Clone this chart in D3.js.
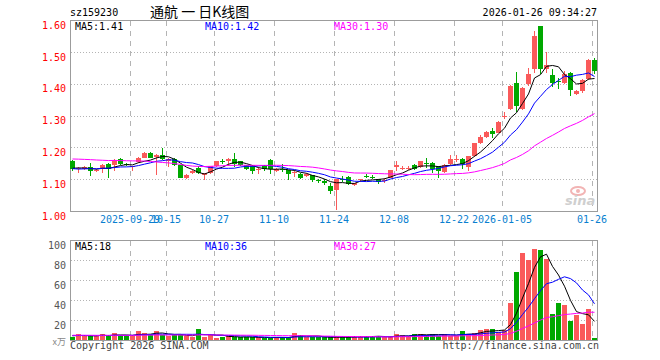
<!DOCTYPE html>
<html>
<head>
<meta charset="utf-8">
<script src="https://cdn.jsdelivr.net/npm/d3@7/dist/d3.min.js"></script>
<style>
	body { margin: 0; background: #fff; }
	svg text { font-family: "DejaVu Sans Mono", monospace; font-size: 10px; }
</style>
</head>
<body>
<svg id="kline" width="660" height="360"></svg>
<script>
// x axis labels and the day index they sit on
var tickLabels = ["2025-09-29", "10-15", "10-27", "11-10", "11-24", "12-08", "12-22", "2026-01-05", "01-26"];
var tickIndex = [10, 16, 24, 34, 44, 54, 64, 72, 87];
var priceTicks = [1.00, 1.10, 1.20, 1.30, 1.40, 1.50, 1.60];
var volTicks = [20, 40, 60, 80, 100];

// daily candles
var open = [1.156, 1.131, 1.132, 1.138, 1.125, 1.131, 1.148, 1.143, 1.164, 1.148,
	1.137, 1.154, 1.167, 1.182, 1.169, 1.176, 1.156, 1.162, 1.143, 1.105,
	1.120, 1.136, 1.112, 1.120, 1.141, 1.157, 1.156, 1.164, 1.156, 1.143,
	1.143, 1.130, 1.143, 1.159, 1.125, 1.132, 1.128, 1.122, 1.117, 1.110,
	1.112, 1.096, 1.094, 1.079, 1.067, 1.101, 1.108, 1.082, 1.096, 1.111,
	1.108, 1.100, 1.096, 1.105, 1.138, 1.133, 1.135, 1.145, 1.138, 1.151,
	1.151, 1.140, 1.123, 1.148, 1.161, 1.164, 1.138, 1.173, 1.213, 1.231,
	1.251, 1.246, 1.298, 1.321, 1.403, 1.321, 1.398, 1.445, 1.580, 1.445,
	1.426, 1.409, 1.401, 1.434, 1.367, 1.377, 1.415, 1.474];
var high = [1.160, 1.138, 1.140, 1.150, 1.131, 1.147, 1.150, 1.162, 1.166, 1.151,
	1.142, 1.170, 1.184, 1.184, 1.179, 1.198, 1.166, 1.165, 1.145, 1.116,
	1.129, 1.140, 1.120, 1.142, 1.158, 1.164, 1.166, 1.182, 1.158, 1.145,
	1.145, 1.138, 1.145, 1.162, 1.135, 1.148, 1.130, 1.128, 1.119, 1.119,
	1.114, 1.100, 1.100, 1.087, 1.101, 1.110, 1.110, 1.089, 1.102, 1.115,
	1.112, 1.102, 1.104, 1.130, 1.156, 1.140, 1.141, 1.148, 1.158, 1.166,
	1.154, 1.142, 1.147, 1.176, 1.176, 1.166, 1.174, 1.215, 1.238, 1.250,
	1.261, 1.282, 1.311, 1.395, 1.437, 1.389, 1.450, 1.564, 1.580, 1.500,
	1.445, 1.419, 1.440, 1.437, 1.380, 1.414, 1.476, 1.482];
var low = [1.127, 1.118, 1.128, 1.109, 1.121, 1.118, 1.105, 1.127, 1.146, 1.140,
	1.125, 1.150, 1.165, 1.165, 1.112, 1.160, 1.138, 1.141, 1.103, 1.102,
	1.116, 1.116, 1.097, 1.117, 1.138, 1.148, 1.141, 1.138, 1.141, 1.128,
	1.117, 1.117, 1.126, 1.117, 1.122, 1.121, 1.097, 1.107, 1.101, 1.107,
	1.090, 1.088, 1.082, 1.052, 1.003, 1.090, 1.082, 1.079, 1.092, 1.104,
	1.102, 1.085, 1.087, 1.103, 1.126, 1.128, 1.130, 1.130, 1.135, 1.135,
	1.120, 1.103, 1.120, 1.146, 1.153, 1.132, 1.126, 1.171, 1.211, 1.229,
	1.230, 1.244, 1.290, 1.318, 1.311, 1.318, 1.392, 1.434, 1.431, 1.434,
	1.391, 1.384, 1.398, 1.361, 1.365, 1.372, 1.413, 1.429];
var close = [1.131, 1.136, 1.137, 1.125, 1.128, 1.145, 1.133, 1.160, 1.148, 1.143,
	1.140, 1.168, 1.182, 1.167, 1.177, 1.162, 1.164, 1.143, 1.105, 1.114,
	1.126, 1.118, 1.118, 1.140, 1.156, 1.156, 1.164, 1.148, 1.143, 1.133,
	1.126, 1.131, 1.133, 1.133, 1.133, 1.131, 1.117, 1.123, 1.104, 1.117,
	1.097, 1.095, 1.089, 1.063, 1.099, 1.100, 1.084, 1.087, 1.100, 1.110,
	1.107, 1.092, 1.097, 1.128, 1.146, 1.134, 1.136, 1.133, 1.156, 1.150,
	1.133, 1.125, 1.145, 1.164, 1.162, 1.148, 1.172, 1.213, 1.231, 1.248,
	1.241, 1.280, 1.300, 1.392, 1.330, 1.387, 1.429, 1.551, 1.445, 1.460,
	1.401, 1.408, 1.429, 1.380, 1.377, 1.411, 1.474, 1.439];
// volume in 万 (10k) lots
var volume = [3.3, 6, 4, 4, 4, 6, 4, 7, 4, 4,
	4, 9, 7, 5, 9, 5, 4, 5, 5, 4,
	3.3, 11, 3.3, 5, 2, 3.3, 4, 2.7, 2.7, 2.7,
	2.7, 2.7, 2, 2, 2.7, 2.7, 2.7, 7, 5, 2.7,
	2.7, 2.7, 2.7, 2.7, 3, 2.7, 2.7, 4, 4, 2.7,
	4, 4, 2.7, 2.7, 6, 5, 4, 6, 6, 5,
	6, 4, 6, 4, 4, 9, 6, 7, 10, 11,
	11, 8, 10, 37, 68, 87, 80, 91, 90, 81,
	26, 37, 35, 19, 25, 16, 31, 2];

// days before the window, estimated so the moving averages start where the picture has them
var prevClose = [1.15, 1.16, 1.15, 1.16, 1.17, 1.16, 1.15, 1.16, 1.16, 1.15,
	1.18, 1.19, 1.21, 1.22, 1.21, 1.20, 1.21, 1.19, 1.20, 1.19,
	1.15, 1.13, 1.12, 1.13, 1.13, 1.13, 1.14, 1.13, 1.14];
var prevVolume = [5, 5, 4, 6, 5, 5, 4, 5, 6, 5,
	5, 4, 5, 5, 6, 5, 4, 5, 5, 4,
	5, 4, 5, 5, 4, 5, 4, 5, 4];

function movingAvg(prev, vals, n) {
	var all = prev.concat(vals), out = [];
	for (var i = 0; i < vals.length; i++) {
		var j = i + prev.length;
		out.push(d3.mean(all.slice(j - n + 1, j + 1)));
	}
	return out;
}

var red = "#fa5a5a", green = "#00a800",
	maColors = {5: "#000000", 10: "#0000ff", 30: "#ff00ff"},
	gridCol = "#b4b4b4", frameCol = "#9c9c9c";

var svg = d3.select("#kline");
var n = close.length;
var idx = d3.range(n);

var x = d3.scaleBand().domain(idx).range([70, 598]);
var y = d3.scaleLinear().domain([1.0, 1.6]).range([211, 20]);
var yv = d3.scaleLinear().domain([0, 100]).range([340, 240]);

function px(v) { return Math.round(v) + 0.5; }

// ---- header
svg.append("text").attr("x", 70).attr("y", 16).text("sz159230");
svg.append("text")
	.attr("x", 150).attr("y", 17)
	.style("font-family", "'Noto Sans CJK SC', sans-serif")
	.style("font-size", "14px")
	.text("通航 一 日K线图");
svg.append("text").attr("x", 597).attr("y", 16).attr("text-anchor", "end").text("2026-01-26 09:34:27");

// ---- grids
var grid = svg.append("g");
grid.selectAll(".hp")
	.data(priceTicks.slice(1, -1))
	.enter().append("line")
	.attr("x1", 71).attr("x2", 597)
	.attr("y1", function(d) { return px(y(d)); })
	.attr("y2", function(d) { return px(y(d)); })
	.attr("stroke", gridCol).attr("stroke-dasharray", "1,2");
grid.selectAll(".hv")
	.data(volTicks.slice(0, -1))
	.enter().append("line")
	.attr("x1", 71).attr("x2", 597)
	.attr("y1", function(d) { return px(yv(d)); })
	.attr("y2", function(d) { return px(yv(d)); })
	.attr("stroke", gridCol).attr("stroke-dasharray", "1,2");
[[21, 211], [241, 340]].forEach(function(r) {
	grid.selectAll(null)
		.data(tickIndex)
		.enter().append("line")
		.attr("x1", function(d) { return px(x(d)); })
		.attr("x2", function(d) { return px(x(d)); })
		.attr("y1", r[0]).attr("y2", r[1])
		.attr("stroke", gridCol).attr("stroke-dasharray", "5,5");
});

// watermark
var wm = svg.append("g");
wm.append("ellipse").attr("cx", 578).attr("cy", 191).attr("rx", 7).attr("ry", 4)
	.attr("fill", "none").attr("stroke", "#f2b4b4").attr("stroke-width", 2);
wm.append("circle").attr("cx", 578).attr("cy", 191).attr("r", 2).attr("fill", "#f2b4b4");
wm.append("text").attr("x", 565).attr("y", 205)
	.style("font-family", "'DejaVu Sans', sans-serif").style("font-size", "13px")
	.style("font-weight", "bold").style("font-style", "italic")
	.attr("fill", "#cfcfcf").text("sina");

// ---- frames
svg.append("rect").attr("x", 70.5).attr("y", 20.5).attr("width", 527).attr("height", 191)
	.attr("fill", "none").attr("stroke", frameCol);
svg.append("rect").attr("x", 70.5).attr("y", 240.5).attr("width", 527).attr("height", 100)
	.attr("fill", "none").attr("stroke", frameCol);

// ---- axes labels
var yAxis = d3.axisLeft(y).tickValues(priceTicks).tickFormat(d3.format(".2f")).tickSize(0).tickPadding(4);
var gy = svg.append("g").attr("transform", "translate(70,5)").call(yAxis);
gy.select(".domain").remove();
gy.selectAll("text").attr("fill", "#ff0000").style("font-family", "'DejaVu Sans Mono', monospace").style("font-size", "10px");

var vAxis = d3.axisLeft(yv).tickValues(volTicks).tickSize(0).tickPadding(4);
var gv = svg.append("g").attr("transform", "translate(70,5)").call(vAxis);
gv.select(".domain").remove();
gv.selectAll("text").attr("fill", "#555").style("font-family", "'DejaVu Sans Mono', monospace").style("font-size", "10px");
svg.append("text").attr("x", 66).attr("y", 345).attr("text-anchor", "end").attr("fill", "#888")
	.style("font-family", "'Noto Sans CJK SC', sans-serif").style("font-size", "9px").text("x万");

var xAxis = d3.axisBottom(x).tickValues(tickIndex)
	.tickFormat(function(d) { return tickLabels[tickIndex.indexOf(d)]; })
	.tickSize(0).tickPadding(0);
var gx = svg.append("g").attr("transform", "translate(" + (-x.bandwidth() / 2) + ",216)").call(xAxis);
gx.select(".domain").remove();
gx.selectAll("text").attr("fill", "#0a7fd0").attr("dy", "0.71em").style("font-family", "'DejaVu Sans Mono', monospace").style("font-size", "10px");

// ---- candles
var cg = svg.append("g");
function col(i) { return close[i] >= open[i] ? red : green; }
cg.selectAll(".wick")
	.data(idx)
	.enter().append("rect")
	.attr("x", function(i) { return x(i) + 2; })
	.attr("width", 1)
	.attr("y", function(i) { return Math.round(y(high[i])); })
	.attr("height", function(i) { return Math.max(1, Math.round(y(low[i])) - Math.round(y(high[i]))); })
	.attr("fill", col);
cg.selectAll(".body")
	.data(idx)
	.enter().append("rect")
	.attr("x", function(i) { return x(i); })
	.attr("width", 5)
	.attr("y", function(i) { return Math.round(y(Math.max(open[i], close[i]))); })
	.attr("height", function(i) {
		return Math.max(1, Math.round(y(Math.min(open[i], close[i]))) - Math.round(y(Math.max(open[i], close[i]))));
	})
	.attr("fill", col);

// ---- volume bars
svg.append("g").selectAll("rect")
	.data(idx)
	.enter().append("rect")
	.attr("x", function(i) { return x(i); })
	.attr("width", 5)
	.attr("y", function(i) { return Math.round(yv(volume[i])); })
	.attr("height", function(i) { return 340 - Math.round(yv(volume[i])); })
	.attr("fill", col);

// ---- moving averages
var lineP = d3.line().x(function(d, i) { return x(i) + 2.5; }).y(function(d) { return y(d); });
var lineV = d3.line().x(function(d, i) { return x(i) + 2.5; }).y(function(d) { return yv(d); });
var labelX = {5: 75, 10: 205, 30: 334};
[5, 10, 30].forEach(function(m) {
	var mp = movingAvg(prevClose, close, m);
	var mv = movingAvg(prevVolume, volume, m);
	svg.append("path").attr("d", lineP(mp)).attr("fill", "none").attr("stroke", maColors[m]).attr("stroke-width", 1);
	svg.append("path").attr("d", lineV(mv)).attr("fill", "none").attr("stroke", maColors[m]).attr("stroke-width", 1);
	svg.append("text").attr("x", labelX[m]).attr("y", 30).attr("fill", maColors[m])
		.text("MA" + m + ":" + (Math.floor(mp[n - 1] * 100) / 100).toFixed(2));
	svg.append("text").attr("x", labelX[m]).attr("y", 250).attr("fill", maColors[m])
		.text("MA" + m + ":" + Math.floor(mv[n - 1]));
});

// ---- footer
svg.append("text").attr("x", 70).attr("y", 349).attr("fill", "#444").text("Copyright 2026 SINA.COM");
svg.append("text").attr("x", 599).attr("y", 349).attr("text-anchor", "end").attr("fill", "#444").text("http://finance.sina.com.cn");
</script>
</body>
</html>
